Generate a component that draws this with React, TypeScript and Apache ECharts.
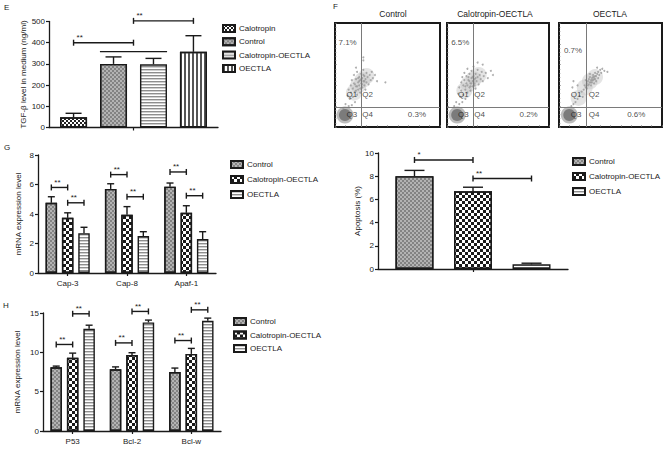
import React, { useEffect, useRef } from "react";
import * as echarts from "echarts";

// ---------- data ----------
const tgfGroups = ["Calotropin", "Control", "Calotropin-OECTLA", "OECTLA"];
const tgfValues = [48, 300, 298, 357];
const tgfErrTops = [67, 333, 326, 433];
// [category, fromPos, toPos, yValue, caps, text]
const tgfBrackets: [number, number, number, number, number, string][] = [
  [0, 0, 1.5, 400, 1, "**"],
  [0, 1.5, 3, 503, 1, "**"],
  [0, 0.66, 2.34, 358, 0, ""],
];

const geneGroups = ["Control", "Calotropin-OECTLA", "OECTLA"];

const capCategories = ["Cap-3", "Cap-8", "Apaf-1"];
const capControl = [4.76, 5.7, 5.85];
const capCalOE = [3.74, 3.95, 4.08];
const capOE = [2.7, 2.5, 2.3];
const capControlErr = [5.17, 6.05, 6.1];
const capCalOEErr = [4.08, 4.5, 4.56];
const capOEErr = [3.1, 2.8, 2.8];
const capBrackets: [number, number, number, number, number, string][] = [
  [0, 0, 1, 5.8, 1, "**"],
  [0, 1, 2, 4.76, 1, "**"],
  [1, 0, 1, 6.67, 1, "**"],
  [1, 1, 2, 5.17, 1, "**"],
  [2, 0, 1, 6.85, 1, "**"],
  [2, 1, 2, 5.24, 1, "**"],
];

const bclCategories = ["P53", "Bcl-2", "Bcl-w"];
const bclControl = [8.1, 7.85, 7.5];
const bclCalOE = [9.3, 9.65, 9.8];
const bclOE = [13.0, 13.8, 14.0];
const bclControlErr = [8.25, 8.15, 8.0];
const bclCalOEErr = [9.9, 9.95, 10.5];
const bclOEErr = [13.45, 14.1, 14.35];
const bclBrackets: [number, number, number, number, number, string][] = [
  [0, 0, 1, 11.0, 1, "**"],
  [0, 1, 2, 14.9, 1, "**"],
  [1, 0, 1, 11.2, 1, "**"],
  [1, 1, 2, 15.2, 1, "**"],
  [2, 0, 1, 11.5, 1, "**"],
  [2, 1, 2, 15.4, 1, "**"],
];

const apopValues = [8.0, 6.7, 0.4];
const apopErrTops = [8.5, 7.05, 0.5];
const apopBrackets: [number, number, number, number, number, string][] = [
  [0, 0, 1, 9.4, 1, "*"],
  [0, 1, 2, 7.8, 1, "**"],
];

const flowTitles = ["Control", "Calotropin-OECTLA", "OECTLA"];
const flowUpperLeft = ["7.1%", "6.5%", "0.7%"];
const flowLowerRight = ["0.3%", "0.2%", "0.6%"];
const flowGateX = [25, 25.5, 26];
const flowGateY = [19, 19, 19];
const flowUpperLeftPos = [[12, 81], [13, 81], [13.6, 74]];
const flowLowerRightPos = [[78, 12], [80, 12], [75, 12]];
const flowQLeftX = [16, 16, 16.5];
const flowQRightX = [31, 32, 34];
const flowCores = [[9.5, 11.5], [10, 11.5], [10, 11.5]];
const flowHaze1 = [[22, 40], [26, 45], [18, 33], [30, 49]];
const flowHaze2 = [[21, 41], [26, 46], [17, 35], [31, 50]];
const flowHaze3 = [[30, 44], [35, 48], [25, 38], [19, 28]];
const flowHazes = [flowHaze1, flowHaze2, flowHaze3];
const flowCloud1 = [
  [12, 30], [13, 36], [14, 27], [15, 40], [15, 33], [16, 45], [17, 29], [17, 37], [18, 42], [18, 50],
  [19, 34], [19, 24], [20, 39], [20, 46], [21, 31], [21, 53], [22, 43], [22, 36], [23, 48], [23, 40],
  [24, 33], [24, 45], [25, 51], [25, 42], [26, 38], [26, 47], [27, 44], [27, 55], [28, 40], [28, 49],
  [29, 36], [29, 46], [30, 52], [30, 43], [31, 48], [32, 41], [33, 50], [34, 45], [35, 53], [36, 47],
  [38, 50], [40, 44], [48, 43], [27, 64], [27, 67], [10, 22], [13, 20], [8, 18], [16, 21], [20, 57],
  [23, 44], [25, 46], [21, 39], [26, 41], [24, 37], [19, 41], [28, 44], [22, 47], [27, 50], [20, 35],
];
const flowCloud2 = [
  [11, 32], [12, 38], [13, 29], [14, 43], [14, 35], [15, 48], [16, 31], [16, 40], [17, 45], [17, 52],
  [18, 36], [18, 27], [19, 42], [19, 49], [20, 33], [20, 56], [21, 45], [22, 38], [22, 51], [23, 42],
  [23, 35], [24, 47], [24, 54], [25, 44], [25, 39], [26, 49], [26, 58], [27, 42], [27, 46], [28, 51],
  [28, 37], [29, 44], [30, 48], [30, 55], [31, 41], [32, 50], [33, 46], [34, 53], [35, 44], [36, 49],
  [38, 52], [40, 47], [43, 54], [45, 50], [30, 62], [9, 24], [12, 22], [15, 24], [7, 20], [35, 60],
  [22, 44], [24, 42], [26, 44], [20, 40], [25, 48], [23, 39], [28, 47], [18, 39], [21, 48], [27, 40],
];
const flowCloud3 = [
  [24, 36], [25, 40], [26, 38], [27, 42], [27, 37], [28, 44], [28, 40], [29, 46], [29, 41], [30, 43],
  [30, 48], [31, 45], [31, 40], [32, 47], [32, 43], [33, 50], [33, 45], [34, 42], [34, 48], [35, 46],
  [35, 52], [36, 49], [36, 44], [37, 51], [38, 47], [38, 53], [39, 50], [40, 55], [41, 52], [42, 56],
  [44, 54], [47, 53], [30, 51], [26, 45], [22, 34], [20, 30], [18, 27], [16, 24], [14, 22], [12, 20],
  [13, 38], [14, 44], [18, 40], [23, 29], [37, 57], [32, 45], [34, 46], [33, 48], [31, 43], [35, 49],
];
const flowClouds = [flowCloud1, flowCloud2, flowCloud3];

// ---------- styles ----------
const FONT = "Liberation Sans, Arial, sans-serif";
const INK = "#1a1a1a";

const decalFineCheck = { symbol: "rect", symbolSize: 1, dashArrayX: [[2, 2], [0, 2, 2, 0]], dashArrayY: [2, 0], color: "rgba(90,90,90,0.55)" };
const decalChecker = { symbol: "rect", symbolSize: 1, dashArrayX: [[3, 3], [0, 3, 3, 0]], dashArrayY: [3, 0], color: "#1a1a1a" };
const decalSmallChecker = { symbol: "rect", symbolSize: 1, dashArrayX: [[2, 2], [0, 2, 2, 0]], dashArrayY: [2, 0], color: "#222" };
const decalVStripes = { symbol: "rect", symbolSize: 1, symbolKeepAspect: false, dashArrayX: [2, 2], dashArrayY: [4, 0], color: "#555" };

function stripePattern(): any {
  const c = document.createElement("canvas");
  c.width = 4;
  c.height = 3;
  const ctx = c.getContext("2d")!;
  ctx.fillStyle = "#ffffff";
  ctx.fillRect(0, 0, 4, 3);
  ctx.fillStyle = "#8e8e8e";
  ctx.fillRect(0, 0, 4, 1);
  ctx.fillStyle = "#d0d0d0";
  ctx.fillRect(0, 1, 4, 1);
  return { image: c, repeat: "repeat" };
}

const axisLineStyle = { show: true, lineStyle: { color: INK, width: 1.3 } };
const axisTickStyle = { show: true, length: 3, lineStyle: { color: INK, width: 1.2 } };
const labelStyle = { fontSize: 8, color: INK, fontFamily: FONT };

function px(api: any, cat: number, pos: number, n: number, w: number, gap: number) {
  const c = api.coord([cat, 0])[0];
  const step = w * (1 + gap);
  return c + (pos - (n - 1) / 2) * step;
}

function errorSeries(axis: number, n: number, w: number, gap: number, capW: number, items: number[][]) {
  return {
    type: "custom",
    xAxisIndex: axis,
    yAxisIndex: axis,
    silent: true,
    z: 5,
    data: items,
    encode: { x: 0, y: 3 },
    renderItem: (params: any, api: any) => {
      const it = items[params.dataIndex];
      const x = px(api, it[0], it[1], n, w, gap);
      const yBar = api.coord([it[0], it[2]])[1];
      const yTop = api.coord([it[0], it[3]])[1];
      const st = { stroke: INK, lineWidth: 1.4 };
      return {
        type: "group",
        children: [
          { type: "line", shape: { x1: x, y1: yBar, x2: x, y2: yTop }, style: st },
          { type: "line", shape: { x1: x - capW / 2, y1: yTop, x2: x + capW / 2, y2: yTop }, style: st },
        ],
      };
    },
  };
}

function bracketSeries(axis: number, n: number, w: number, gap: number, list: [number, number, number, number, number, string][]) {
  return {
    type: "custom",
    xAxisIndex: axis,
    yAxisIndex: axis,
    silent: true,
    z: 6,
    data: list.map((b) => [b[0], b[1], b[2], b[3], b[4]]),
    encode: { x: 0, y: 3 },
    renderItem: (params: any, api: any) => {
      const b = list[params.dataIndex];
      const x1 = px(api, b[0], b[1], n, w, gap);
      const x2 = px(api, b[0], b[2], n, w, gap);
      const y = api.coord([b[0], b[3]])[1];
      const st = { stroke: INK, lineWidth: 1.4 };
      const children: any[] = [{ type: "line", shape: { x1, y1: y, x2, y2: y }, style: st }];
      if (b[4]) {
        children.push({ type: "line", shape: { x1, y1: y - 3, x2: x1, y2: y + 3 }, style: st });
        children.push({ type: "line", shape: { x1: x2, y1: y - 3, x2, y2: y + 3 }, style: st });
      }
      if (b[5]) {
        children.push({
          type: "text",
          style: { text: b[5], x: x1 + 3, y: y - 1, fontSize: 8, fill: INK, fontFamily: FONT, align: "left", verticalAlign: "bottom" },
        });
      }
      return { type: "group", children };
    },
  };
}

function buildOption() {
  const styleControl = { color: "#b3b3b3", borderColor: INK, borderWidth: 1.4, decal: decalFineCheck };
  const styleCalOE = { color: "#ffffff", borderColor: INK, borderWidth: 1.4, decal: decalChecker };
  const styleOE = { color: stripePattern(), borderColor: INK, borderWidth: 1.4 };
  const tgfStyles = [
    { color: "#ffffff", borderColor: INK, borderWidth: 1.4, decal: decalSmallChecker },
    styleControl,
    { color: stripePattern(), borderColor: INK, borderWidth: 1.4 },
    { color: "#ffffff", borderColor: INK, borderWidth: 1.4, decal: decalVStripes },
  ];
  const geneStyles = [styleControl, styleCalOE, styleOE];

  const grids = [
    { left: 49, top: 21.5, width: 169, height: 106 }, // E
    { left: 335, top: 23, width: 105, height: 104, show: true, borderColor: INK, borderWidth: 2 }, // F1
    { left: 447, top: 23, width: 102, height: 104, show: true, borderColor: INK, borderWidth: 2 }, // F2
    { left: 559, top: 23, width: 103, height: 104, show: true, borderColor: INK, borderWidth: 2 }, // F3
    { left: 378, top: 153, width: 190, height: 116 }, // apoptosis
    { left: 38, top: 155, width: 178, height: 118 }, // G
    { left: 43, top: 313, width: 178, height: 118 }, // H
  ];

  const catAxis = (gridIndex: number, data: string[], showLabel: boolean) => ({
    gridIndex,
    type: "category",
    data,
    axisLine: axisLineStyle,
    axisTick: { ...axisTickStyle, alignWithLabel: true },
    axisLabel: { show: showLabel, ...labelStyle, margin: 6 },
    splitLine: { show: false },
  });
  const flowX = (gridIndex: number) => ({
    gridIndex, type: "value", min: 0, max: 100, interval: 10,
    axisLine: { show: false }, axisLabel: { show: false }, splitLine: { show: false },
    axisTick: { show: true, inside: true, length: 2, lineStyle: { color: "#777", width: 0.6 } },
  });
  const flowY = (gridIndex: number) => ({
    gridIndex, type: "value", min: 0, max: 100, interval: 20,
    axisLine: { show: false }, axisLabel: { show: false }, splitLine: { show: false },
    axisTick: { show: true, inside: true, length: 2, lineStyle: { color: "#777", width: 0.6 } },
    minorTick: { show: true, length: 1.5, splitNumber: 5, lineStyle: { color: "#888", width: 0.6 } },
  });
  const valAxis = (gridIndex: number, max: number, interval: number, name: string, nameGap: number) => ({
    gridIndex, type: "value", min: 0, max, interval,
    name, nameLocation: "middle", nameGap, nameRotate: 90,
    nameTextStyle: { fontSize: 8, color: INK, fontFamily: FONT },
    axisLine: axisLineStyle, axisTick: axisTickStyle,
    axisLabel: { ...labelStyle, margin: 4 },
    splitLine: { show: false },
  });

  const xAxis = [
    catAxis(0, [""], false),
    flowX(1), flowX(2), flowX(3),
    catAxis(4, [""], false),
    catAxis(5, capCategories, true),
    catAxis(6, bclCategories, true),
  ];
  const yAxis = [
    valAxis(0, 500, 100, "TGF-β level in medium (ng/ml)", 17),
    flowY(1), flowY(2), flowY(3),
    valAxis(4, 10, 2, "Apoptosis (%)", 16),
    valAxis(5, 8, 2, "mRNA expression level", 16),
    valAxis(6, 15, 5, "mRNA expression level", 22),
  ];

  const series: any[] = [];

  // E
  const eW = 27, eGap = 0.48;
  tgfGroups.forEach((g, i) => {
    series.push({
      type: "bar", name: "E|" + g, xAxisIndex: 0, yAxisIndex: 0,
      data: [tgfValues[i]], barWidth: eW, barGap: eGap * 100 + "%", itemStyle: tgfStyles[i],
    });
  });
  series.push(errorSeries(0, 4, eW, eGap, 16, tgfValues.map((v, i) => [0, i, v, tgfErrTops[i]])));
  series.push(bracketSeries(0, 4, eW, eGap, tgfBrackets));

  // F flow panels
  for (let p = 0; p < 3; p++) {
    const ax = 1 + p;
    series.push({
      type: "scatter", xAxisIndex: ax, yAxisIndex: ax, silent: true, z: 1,
      data: flowHazes[p], symbolSize: 16, itemStyle: { color: "#c4c4c4", opacity: 0.45 },
    });
    series.push({
      type: "scatter", xAxisIndex: ax, yAxisIndex: ax, silent: true, z: 2,
      data: flowClouds[p], symbolSize: 2, itemStyle: { color: "#9a9a9a", opacity: 0.8 },
      markLine: {
        silent: true, symbol: "none", label: { show: false },
        lineStyle: { color: "#7a7a7a", width: 1, type: "solid" },
        data: [{ xAxis: flowGateX[p] }, { yAxis: flowGateY[p] }],
      },
    });
    series.push({
      type: "scatter", xAxisIndex: ax, yAxisIndex: ax, silent: true, z: 3,
      data: [flowCores[p]], symbolSize: 17, itemStyle: { color: "#a0a0a0", opacity: 0.7 },
    });
    series.push({
      type: "scatter", xAxisIndex: ax, yAxisIndex: ax, silent: true, z: 3,
      data: [flowCores[p]], symbolSize: 12, itemStyle: { color: "#6a6a6a" },
    });
    const lx = flowQLeftX[p], rx = flowQRightX[p];
    const labels = [
      { value: flowUpperLeftPos[p], name: flowUpperLeft[p] },
      { value: [lx, 31], name: "Q1" },
      { value: [rx, 31], name: "Q2" },
      { value: [lx, 12], name: "Q3" },
      { value: [rx, 12], name: "Q4" },
      { value: flowLowerRightPos[p], name: flowLowerRight[p] },
    ];
    series.push({
      type: "scatter", xAxisIndex: ax, yAxisIndex: ax, silent: true, z: 20,
      data: labels, symbolSize: 0,
      label: { show: true, position: "inside", formatter: "{b}", fontSize: 8, color: INK, fontFamily: FONT },
    });
  }

  // Apoptosis
  const aW = 38, aGap = 0.54;
  const apopN = geneGroups.length;
  geneGroups.forEach((g, i) => {
    series.push({
      type: "bar", name: "A|" + g, xAxisIndex: 4, yAxisIndex: 4,
      data: [apopValues[i]], barWidth: aW, barGap: aGap * 100 + "%", itemStyle: geneStyles[i],
    });
  });
  series.push(errorSeries(4, apopN, aW, aGap, 20, apopValues.map((v, i) => [0, i, v, apopErrTops[i]])));
  series.push(bracketSeries(4, apopN, aW, aGap, apopBrackets));

  // G
  const gW = 11.5, gGap = 0.42;
  const capVals = [capControl, capCalOE, capOE];
  const capErrs = [capControlErr, capCalOEErr, capOEErr];
  geneGroups.forEach((g, i) => {
    series.push({
      type: "bar", name: "G|" + g, xAxisIndex: 5, yAxisIndex: 5,
      data: capVals[i], barWidth: gW, barGap: gGap * 100 + "%", itemStyle: geneStyles[i],
    });
  });
  const capErrItems: number[][] = [];
  capVals.forEach((vals, s) => vals.forEach((v, c) => capErrItems.push([c, s, v, capErrs[s][c]])));
  series.push(errorSeries(5, 3, gW, gGap, 7, capErrItems));
  series.push(bracketSeries(5, 3, gW, gGap, capBrackets));

  // H
  const hW = 11.5, hGap = 0.43;
  const bclVals = [bclControl, bclCalOE, bclOE];
  const bclErrs = [bclControlErr, bclCalOEErr, bclOEErr];
  geneGroups.forEach((g, i) => {
    series.push({
      type: "bar", name: "H|" + g, xAxisIndex: 6, yAxisIndex: 6,
      data: bclVals[i], barWidth: hW, barGap: hGap * 100 + "%", itemStyle: geneStyles[i],
    });
  });
  const bclErrItems: number[][] = [];
  bclVals.forEach((vals, s) => vals.forEach((v, c) => bclErrItems.push([c, s, v, bclErrs[s][c]])));
  series.push(errorSeries(6, 3, hW, hGap, 7, bclErrItems));
  series.push(bracketSeries(6, 3, hW, hGap, bclBrackets));

  const legendBase = {
    orient: "vertical", icon: "rect", itemWidth: 12, itemHeight: 7, padding: 0,
    selectedMode: false,
    textStyle: { fontSize: 8, color: INK, fontFamily: FONT, padding: [0, 0, 0, -1] },
    formatter: (name: string) => name.slice(2),
  };
  const legend = [
    { ...legendBase, data: tgfGroups.map((g) => "E|" + g), left: 222, top: 24, itemGap: 4.3 },
    { ...legendBase, data: geneGroups.map((g) => "A|" + g), left: 572, top: 157, itemGap: 6 },
    { ...legendBase, data: geneGroups.map((g) => "G|" + g), left: 230, top: 160, itemGap: 6 },
    { ...legendBase, data: geneGroups.map((g) => "H|" + g), left: 233, top: 317, itemGap: 4.5 },
  ];

  const letter = (text: string, left: number, top: number) => ({
    text, left, top, padding: 0,
    textStyle: { fontSize: 8, fontWeight: "normal", color: INK, fontFamily: FONT },
  });
  const flowTitleCenters = [393, 495, 610];
  const title = [
    letter("E", 4, 3),
    letter("F", 333, 2),
    letter("G", 4, 143),
    letter("H", 3, 301),
    ...flowTitles.map((t, i) => ({
      text: t, left: flowTitleCenters[i], top: 9, padding: 0, textAlign: "center",
      textStyle: { fontSize: 8.5, fontWeight: "normal", color: INK, fontFamily: FONT },
    })),
  ];

  return {
    animation: false,
    backgroundColor: "#ffffff",
    textStyle: { fontFamily: FONT },
    title,
    legend,
    grid: grids,
    xAxis,
    yAxis,
    series,
  };
}

export default function App() {
  const ref = useRef<HTMLDivElement>(null);
  useEffect(() => {
    if (!ref.current) return;
    const chart = echarts.init(ref.current, null, { renderer: "svg" });
    chart.setOption(buildOption() as any);
    return () => chart.dispose();
  }, []);
  return (
    <div
      ref={ref}
      style={{ position: "fixed", left: 0, top: 0, width: 668, height: 450, background: "#fff" }}
    />
  );
}
